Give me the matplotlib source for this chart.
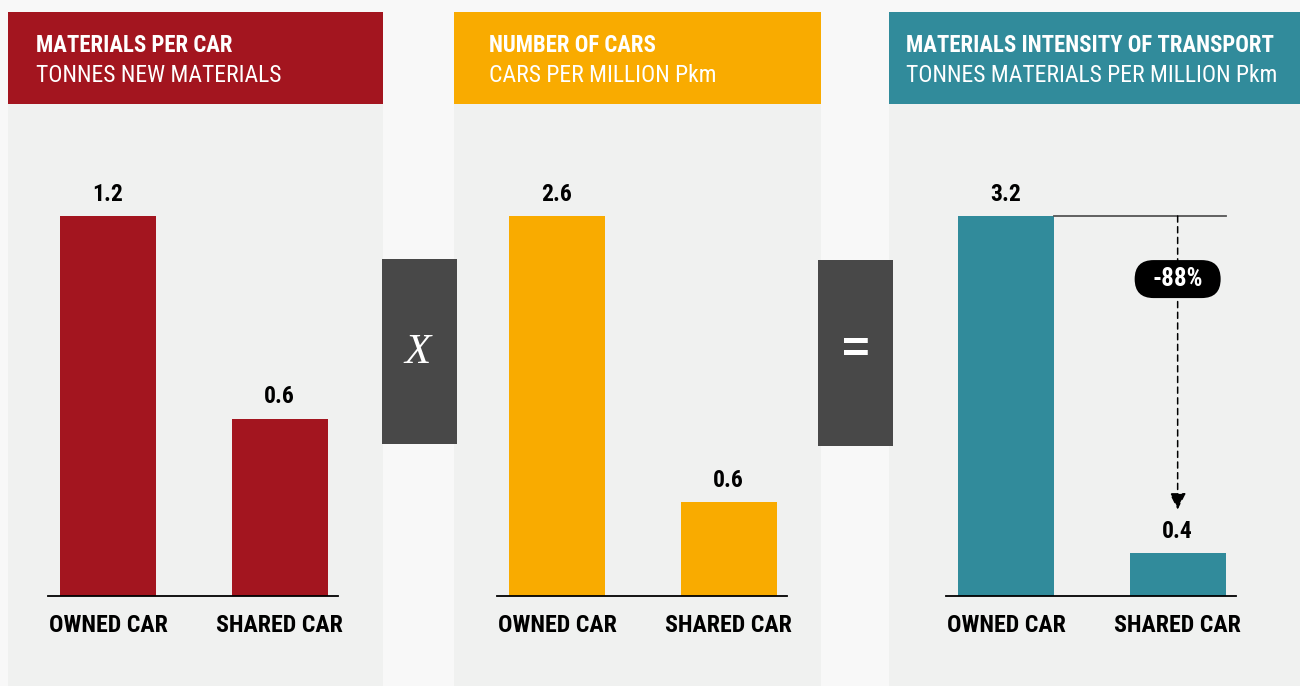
import matplotlib
matplotlib.use("Agg")
import matplotlib.pyplot as plt
from matplotlib import transforms
from matplotlib.patches import Rectangle, FancyBboxPatch

# data
categories = ["OWNED CAR", "SHARED CAR"]
titles = ["MATERIALS PER CAR", "NUMBER OF CARS", "MATERIALS INTENSITY OF TRANSPORT"]
subtitles = ["TONNES NEW MATERIALS", "CARS PER MILLION Pkm",
             "TONNES MATERIALS PER MILLION Pkm"]
materials_per_car = [1.2, 0.56]
cars_per_mpkm = [2.6, 0.64]
materials_intensity = [3.2, 0.36]
change_label = "-88%"

RED = "#a3151f"
YELLOW = "#f9ab00"
TEAL = "#318b9b"
DARK = "#484848"
PANEL = "#f0f1f0"
OUTER = "#f8f8f8"

FONT = ["Roboto Condensed", "IBM Plex Sans Condensed", "DejaVu Sans"]
plt.rcParams["font.family"] = FONT

W, H = 1300, 686
fig = plt.figure(figsize=(W / 100, H / 100), dpi=100)
fig.patch.set_facecolor(OUTER)

# background layer in pixel coordinates (origin top-left)
bg = fig.add_axes([0, 0, 1, 1])
bg.set_xlim(0, W)
bg.set_ylim(H, 0)
bg.axis("off")

panels = [(8, 383, RED), (454, 821, YELLOW), (889, 1300, TEAL)]
text_x = [36, 489, 906]
for (x0, x1, col), tx, t, s in zip(panels, text_x, titles, subtitles):
    bg.add_patch(Rectangle((x0, 104), x1 - x0, H - 104, color=PANEL, lw=0))
    bg.add_patch(Rectangle((x0, 12), x1 - x0, 92, color=col, lw=0))
    bg.text(tx, 46, t, color="white", fontsize=16.4, fontweight="bold", va="center")
    bg.text(tx, 75, s, color="white", fontsize=17, va="center")

# operator boxes
bg.add_patch(Rectangle((382, 259), 75, 185, color=DARK, lw=0))
bg.add_patch(Rectangle((818, 260), 75, 186, color=DARK, lw=0))
bg.text(418, 353, "X", color="white", fontsize=31, family="Liberation Serif",
        style="italic", ha="center", va="center")
bg.text(855.5, 351, "=", color="white", fontsize=34, fontweight="bold",
        family="Liberation Sans", ha="center", va="center")

# bar panels
owned_centers = [108, 557, 1006]
series = [materials_per_car, cars_per_mpkm, materials_intensity]
colors = [RED, YELLOW, TEAL]
base_y, top_y = 596, 216
axes = []
for cx, vals, col in zip(owned_centers, series, colors):
    left = cx - 60
    ax = fig.add_axes([left / W, 1 - base_y / H, 290 / W, (base_y - top_y) / H])
    ax.patch.set_alpha(0)
    ax.bar([0, 1], vals, width=0.56, color=col)
    ax.set_xlim(-0.35, 1.34)
    ax.set_ylim(0, max(vals))
    for sp in ["top", "left", "right"]:
        ax.spines[sp].set_visible(False)
    ax.spines["bottom"].set_linewidth(1.3)
    ax.set_yticks([])
    ax.set_xticks([0, 1])
    ax.set_xticklabels(categories, fontsize=17.2, fontweight="bold")
    ax.tick_params(axis="x", length=0, pad=13)
    for i, v in enumerate(vals):
        ax.annotate(f"{v:.1f}", (i, v), xytext=(0, 11), textcoords="offset points",
                    ha="center", va="baseline", fontsize=17, fontweight="bold",
                    annotation_clip=False)
    axes.append(ax)

# reduction marker on the last panel
ax = axes[2]
v0, v1 = materials_intensity
ax.plot([0.28, 1.28], [v0, v0], color="#555555", lw=1.3, clip_on=False)
ax.annotate("", xy=(1, v1), xytext=(1, v0),
            arrowprops=dict(arrowstyle="-|>,head_length=1.0,head_width=0.5",
                            linestyle=(0, (4, 3)), color="black", lw=1.1,
                            shrinkA=0, shrinkB=31.5),
            annotation_clip=False)
pill_t = transforms.ScaledTranslation(1, 0.834, ax.get_xaxis_transform())
pill = FancyBboxPatch((-43, -19), 86, 38, boxstyle="round,pad=0,rounding_size=19",
                      transform=pill_t, facecolor="black", edgecolor="none",
                      clip_on=False, zorder=5)
ax.add_patch(pill)
ax.text(1, 0.834, change_label, transform=ax.get_xaxis_transform(), color="white",
        fontsize=18, fontweight="bold", ha="center", va="center", zorder=6)

fig.savefig("out.png", dpi=100, facecolor=OUTER)
